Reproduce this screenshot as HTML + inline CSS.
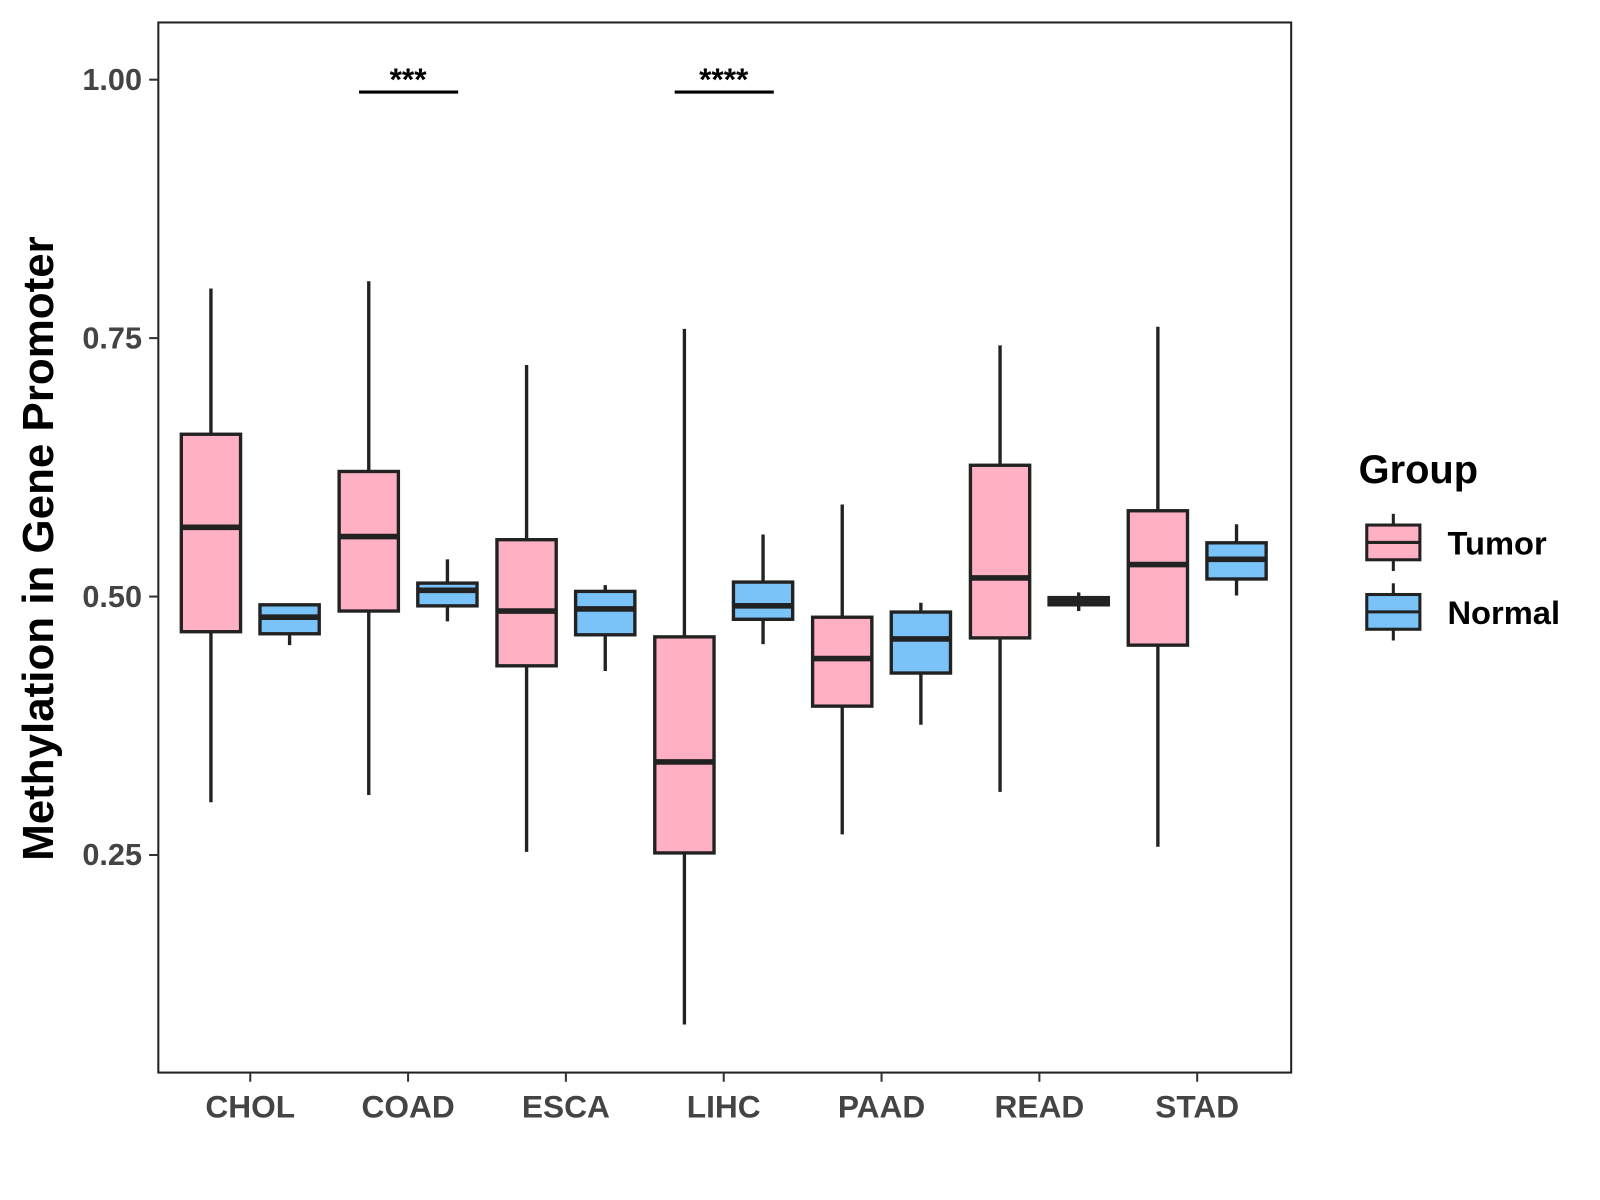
<!DOCTYPE html>
<html><head><meta charset="utf-8"><style>
html,body{margin:0;padding:0;background:#fff;}
svg{display:block;font-family:"Liberation Sans",Arial,sans-serif;}
</style></head><body>
<svg id="chart" width="1600" height="1200" xmlns="http://www.w3.org/2000/svg">
<rect x="0" y="0" width="1600" height="1200" fill="#fff"/>
<g transform="scale(1.0215)">
<rect x="155" y="22" width="1109" height="1028" fill="none" stroke="#222" stroke-width="2"/>
<g id="yaxis"></g>
<g id="xaxis"></g>
<g id="boxes"></g>
<g id="sig"></g>
<text transform="translate(52,537) rotate(-90)" text-anchor="middle" font-size="43" font-weight="bold" fill="#000">Methylation in Gene Promoter</text>
<g>
<text x="1330" y="473" font-size="39" font-weight="bold">Group</text>
<g>
<line x1="1364" y1="503" x2="1364" y2="559" stroke="#222" stroke-width="3"/>
<rect x="1338" y="514" width="52" height="34" fill="#FFB1C3" stroke="#222" stroke-width="3"/>
<line x1="1338" y1="531" x2="1390" y2="531" stroke="#222" stroke-width="3"/>
<text x="1417" y="543" font-size="32" font-weight="bold">Tumor</text></g>
<g>
<line x1="1364" y1="571" x2="1364" y2="627" stroke="#222" stroke-width="3"/>
<rect x="1338" y="582" width="52" height="34" fill="#79C3F8" stroke="#222" stroke-width="3"/>
<line x1="1338" y1="599" x2="1390" y2="599" stroke="#222" stroke-width="3"/>
<text x="1417" y="611" font-size="32" font-weight="bold">Normal</text></g>
</g>
</g>
</svg>
<script>
const categories=["CHOL","COAD","ESCA","LIHC","PAAD","READ","STAD"];
const tumorLow=[0.301,0.308,0.253,0.086,0.270,0.311,0.258];
const tumorQ1=[0.466,0.486,0.433,0.252,0.394,0.460,0.453];
const tumorMed=[0.567,0.558,0.486,0.340,0.440,0.518,0.531];
const tumorQ3=[0.657,0.621,0.555,0.461,0.480,0.627,0.583];
const tumorHigh=[0.798,0.805,0.724,0.759,0.589,0.743,0.761];
const normalLow=[0.453,0.476,0.428,0.454,0.376,0.486,0.501];
const normalQ1=[0.464,0.491,0.463,0.478,0.426,0.492,0.517];
const normalMed=[0.480,0.506,0.488,0.491,0.459,0.495,0.536];
const normalQ3=[0.492,0.513,0.505,0.514,0.485,0.499,0.552];
const normalHigh=[0.492,0.536,0.511,0.560,0.494,0.504,0.570];
const yTicks=[0.25,0.50,0.75,1.00];
const yTickLabels=["0.25","0.50","0.75","1.00"];
const sigCats=["COAD","LIHC"];
const sigLabels=["***","****"];
const sigLevel=0.988;

const NS="http://www.w3.org/2000/svg";
function y(v){return 78+(1-v)*1012;}
function x(i){return 245+i*154.5;}
function mk(t,a,p){const e=document.createElementNS(NS,t);for(const k in a)e.setAttribute(k,a[k]);p.appendChild(e);return e;}
const ya=document.getElementById('yaxis'),xa=document.getElementById('xaxis'),bx=document.getElementById('boxes'),sg=document.getElementById('sig');
yTicks.forEach((v,i)=>{
 const l=mk('line',{x1:146,x2:155,y1:y(v),y2:y(v),stroke:'#333','stroke-width':2},ya);
 
 
 const t=mk('text',{x:139,y:y(v)+10,'text-anchor':'end','font-size':30,'font-weight':'bold',fill:'#444'},ya);
 t.textContent=yTickLabels[i];
 
 
});
categories.forEach((c,i)=>{
 const l=mk('line',{x1:x(i),x2:x(i),y1:1050,y2:1059,stroke:'#333','stroke-width':2},xa);
 
 
 const t=mk('text',{x:x(i),y:1094,'text-anchor':'middle','font-size':31,'font-weight':'bold',fill:'#444'},xa);
 t.textContent=c;
 
 
});
function box(cx,lo,q1,md,q3,hi,fill,name){
 const g=mk('g',{},bx);
 
 
 mk('line',{x1:cx,x2:cx,y1:y(hi),y2:y(lo),stroke:'#222','stroke-width':3.3},g);
 mk('rect',{x:cx-29,y:y(q3),width:58,height:Math.max(y(q1)-y(q3),1),fill:fill,stroke:'#222','stroke-width':3.3},g);
 mk('line',{x1:cx-29,x2:cx+29,y1:y(md),y2:y(md),stroke:'#222','stroke-width':5.5},g);
}
categories.forEach((c,i)=>{
 box(x(i)-38.5,tumorLow[i],tumorQ1[i],tumorMed[i],tumorQ3[i],tumorHigh[i],'#FFB1C3','box-tumor-'+c.toLowerCase());
 box(x(i)+38.5,normalLow[i],normalQ1[i],normalMed[i],normalQ3[i],normalHigh[i],'#79C3F8','box-normal-'+c.toLowerCase());
});
sigCats.forEach((c,k)=>{
 const i=categories.indexOf(c);
 const l=mk('line',{x1:x(i)-48,x2:x(i)+49,y1:y(sigLevel),y2:y(sigLevel),stroke:'#000','stroke-width':3},sg);
 
 
 const t=mk('text',{x:x(i),y:y(sigLevel)-2,'text-anchor':'middle','font-size':31,'font-weight':'bold'},sg);
 t.textContent=sigLabels[k];
 
 
});
</script>
</body></html>
